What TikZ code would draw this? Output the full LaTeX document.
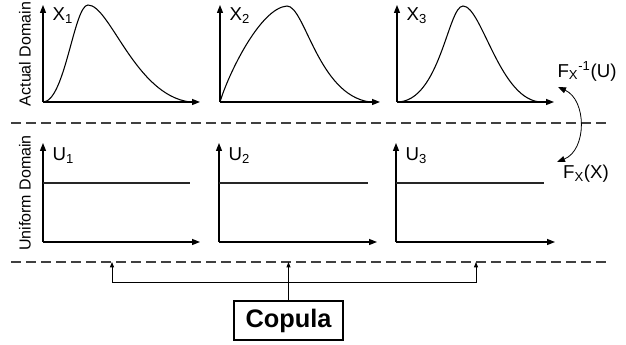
\documentclass[tikz,border=0pt]{standalone}
\usepackage{fontspec}
\setmainfont{Liberation Sans}
\usetikzlibrary{positioning,arrows.meta}

\begin{document}
\begin{tikzpicture}[x=0.75pt,y=-0.75pt,
    every node/.style={font=\fontsize{12}{14}\selectfont},
    var/.style={font=\fontsize{14}{16}\selectfont},
    axis/.style={line width=1pt,-{Triangle[length=6pt,width=4.5pt]}},
    dens/.style={line width=0.8pt},
    level/.style={line width=0.8pt,black!85},
    sep/.style={line width=1pt,black!75,dash pattern=on 7.5pt off 3.75pt},
    link/.style={line width=0.6pt,-{Triangle[length=4pt,width=3pt]}},
    twolink/.style={line width=0.6pt,{Triangle[length=4pt,width=3pt]}-{Triangle[length=4pt,width=3pt]}},
    swap/.style={line width=0.6pt,{Triangle[length=6pt,width=4.5pt]}-{Triangle[length=6pt,width=4.5pt]}}]
  \useasboundingbox (0,0) rectangle (626,345);
  % Domain labels
  \node[rotate=90] (actual) at (25,54) {Actual Domain};
  \node[rotate=90] (uniform) at (25,193) {Uniform Domain};
  % Actual domain
  \begin{scope}[shift={(43,0)}]
    \draw[axis] (0,102) -- (0,5); \draw[axis] (0,102) -- (157,102);
    \draw[dens] (0,102) .. controls (22,102) and (31,5) .. (45,5)
      .. controls (67,5) and (92,95) .. (147,102);
    \node[var,right] (x1) at (5,16) {X\textsubscript{1}};
  \end{scope}
  \begin{scope}[shift={(220,0)}]
    \draw[axis] (0,102) -- (0,5); \draw[axis] (0,102) -- (160,102);
    \draw[dens] (0,102) .. controls (8,75) and (40,8) .. (67,6)
      .. controls (85,6) and (98,95) .. (150,102);
    \node[var,right] (x2) at (5,16) {X\textsubscript{2}};
  \end{scope}
  \begin{scope}[shift={(397,0)}]
    \draw[axis] (0,102) -- (0,5); \draw[axis] (0,102) -- (157,102);
    \draw[dens] (0,102) .. controls (43,102) and (51,6) .. (66,6)
      .. controls (85,6) and (103,102) .. (145,102);
    \node[var,right] (x3) at (5,16) {X\textsubscript{3}};
  \end{scope}
  % Uniform domain
  \begin{scope}[shift={(43,0)}]
    \draw[axis] (0,242) -- (0,143); \draw[axis] (0,242) -- (157,242);
    \draw[level] (0,183) -- (147,183);
    \node[var,right] (u1) at (5,156) {U\textsubscript{1}};
  \end{scope}
  \begin{scope}[shift={(219,0)}]
    \draw[axis] (0,242) -- (0,143); \draw[axis] (0,242) -- (158,242);
    \draw[level] (0,183) -- (149,183);
    \node[var,right] (u2) at (5,156) {U\textsubscript{2}};
  \end{scope}
  \begin{scope}[shift={(396,0)}]
    \draw[axis] (0,242) -- (0,143); \draw[axis] (0,242) -- (159,242);
    \draw[level] (0,183) -- (148,183);
    \node[var,right] (u3) at (5,156) {U\textsubscript{3}};
  \end{scope}
  % Separators
  \draw[sep] (11,123) -- (608,123);
  \draw[sep] (11,262) -- (608,262);
  % Transforms
  \node[var] (finv) at (587,71) {F\textsubscript{X}\textsuperscript{-1}(U)};
  \node[var] (fcdf) at (586,174) {F\textsubscript{X}(X)};
  \coordinate (fa) at (558,87);
  \coordinate (fb) at (557,162);
  \draw[swap] (fa) .. controls (587,100) and (587,150) .. (fb);
  % Copula
  \node[draw,line width=1pt,minimum width=81.75pt,minimum height=29.25pt,
    font=\fontsize{19}{21}\selectfont\bfseries] (copula) at (288.5,320.5) {Copula};
  \coordinate (c1) at (112,262);
  \coordinate (c2) at (288.5,262);
  \coordinate (c3) at (476,262);
  \draw[link] (copula.north) -- (c2);
  \draw[twolink] (c1) -- ++(0,20) -| (c3);
\end{tikzpicture}
\end{document}
